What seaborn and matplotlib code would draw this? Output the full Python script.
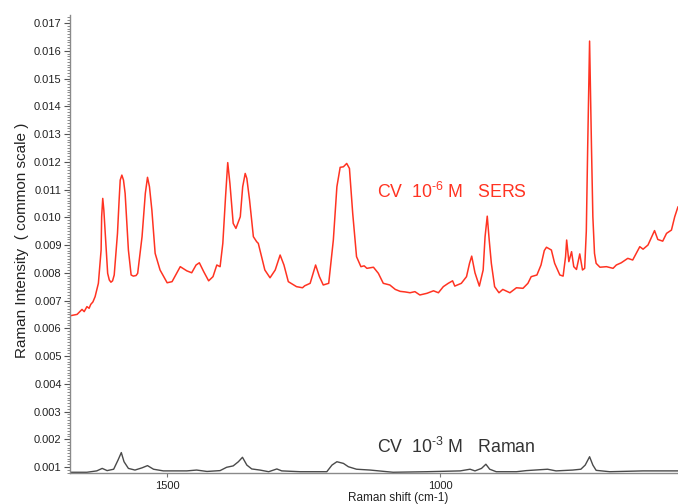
import matplotlib
matplotlib.use("Agg")
import matplotlib.pyplot as plt
from matplotlib.ticker import MultipleLocator, FormatStrFormatter
import seaborn as sns
import pandas as pd

# SERS spectrum of crystal violet (1e-6 M), Raman shift in cm-1 and intensity
sers_shift = [1678, 1665, 1656, 1652, 1647, 1643, 1640, 1636, 1632, 1626, 1621, 1620,
              1618, 1616, 1613.5, 1609, 1606, 1603, 1600, 1597, 1591, 1588, 1586, 1583,
              1580, 1577, 1571, 1566, 1562, 1557, 1554, 1546, 1540, 1536, 1532.4, 1528,
              1522, 1513, 1500, 1491, 1476, 1464, 1455, 1447, 1441, 1433, 1424,
              1416, 1409, 1403, 1398, 1393, 1389, 1385, 1383, 1379, 1374, 1366, 1361.6,
              1357, 1354, 1349, 1342, 1336, 1333, 1330, 1321, 1311.5, 1302, 1293, 1286,
              1278, 1263, 1252, 1248, 1238, 1228, 1221, 1214, 1204, 1195.5, 1189, 1183,
              1177, 1171, 1166, 1160, 1153, 1145, 1139, 1134, 1122, 1113, 1104, 1092,
              1082, 1073, 1064, 1055, 1046, 1037, 1024, 1012, 1003, 994, 985, 977, 973,
              961, 951.5, 946, 942, 936, 928, 921, 917.5, 913.5, 910, 906, 900, 892, 885,
              872, 860, 848, 839, 833, 822.5, 815, 809, 805, 796, 790, 780.5, 774.5, 770,
              768, 764, 759, 755, 750, 744, 739, 735, 732, 729.5, 726, 722.5, 720, 717,
              714, 707, 695, 683, 677, 668, 656, 647, 634, 628, 619, 607, 601, 592, 585,
              576, 570, 564]
sers_int = [0.00645, 0.00650, 0.00668, 0.00660, 0.00678, 0.00672, 0.00686, 0.00695, 0.00714,
            0.00762, 0.00882, 0.01002, 0.01068, 0.01026, 0.00943, 0.00798, 0.00774, 0.00766,
            0.00771, 0.00792, 0.00942, 0.01062, 0.01134, 0.01152, 0.01134, 0.01086, 0.00882,
            0.00792, 0.00788, 0.00790, 0.00798, 0.00930, 0.01086, 0.01144, 0.01110, 0.01026,
            0.00870, 0.00810, 0.00764, 0.00768, 0.00822, 0.00807, 0.00800, 0.00828, 0.00836,
            0.00804, 0.00771, 0.00786, 0.00828, 0.00822, 0.00906, 0.01074, 0.01197, 0.01122,
            0.01074, 0.00978, 0.00960, 0.01002, 0.01110, 0.01158, 0.01140, 0.01062, 0.00930,
            0.00912, 0.00906, 0.00882, 0.00810, 0.00782, 0.00810, 0.00864, 0.00828, 0.00768,
            0.00750, 0.00746, 0.00753, 0.00762, 0.00828, 0.00786, 0.00756, 0.00762, 0.00918,
            0.01110, 0.01180, 0.01182, 0.01194, 0.01176, 0.01014, 0.00858, 0.00822, 0.00825,
            0.00816, 0.00820, 0.00798, 0.00762, 0.00756, 0.00740, 0.00733, 0.00731, 0.00728,
            0.00732, 0.00720, 0.00726, 0.00735, 0.00728, 0.00750, 0.00762, 0.00771, 0.00752,
            0.00762, 0.00786, 0.00834, 0.00860, 0.00800, 0.00752, 0.00810, 0.00930, 0.01004,
            0.00920, 0.00834, 0.00750, 0.00728, 0.00740, 0.00728, 0.00746, 0.00744, 0.00762,
            0.00786, 0.00792, 0.00828, 0.00880, 0.00892, 0.00882, 0.00834, 0.00792, 0.00788,
            0.00858, 0.00918, 0.00840, 0.00876, 0.00822, 0.00812, 0.00868, 0.00810, 0.00816,
            0.00950, 0.01250, 0.01635, 0.01250, 0.01002, 0.00870, 0.00834, 0.00820, 0.00822,
            0.00816, 0.00828, 0.00836, 0.00852, 0.00846, 0.00894, 0.00885, 0.00900, 0.00952,
            0.00920, 0.00914, 0.00942, 0.00954, 0.01002, 0.01038]

# Normal Raman spectrum of crystal violet (1e-3 M)
raman_shift = [1678, 1647, 1629, 1619, 1610, 1598, 1590, 1584, 1579, 1571, 1559, 1546, 1536,
               1525, 1507, 1482, 1464, 1446, 1427, 1403, 1391, 1379, 1369.5, 1362, 1354, 1345,
               1330, 1314, 1299, 1290, 1256, 1207.5, 1198, 1189, 1177, 1168, 1153, 1128, 1086,
               1025, 963, 945, 936, 924, 916, 909, 897, 860, 842, 803, 787.5, 757, 742, 734,
               726, 720, 714, 689, 628, 564]
raman_int = [0.00081, 0.00081, 0.00086, 0.00095, 0.00087, 0.00092, 0.00125, 0.00152, 0.00119,
             0.00095, 0.00089, 0.00097, 0.00105, 0.00092, 0.00086, 0.00086, 0.00086, 0.00089,
             0.00084, 0.00087, 0.00099, 0.00104, 0.00119, 0.00135, 0.00107, 0.00093, 0.00089,
             0.00083, 0.00093, 0.00086, 0.00083, 0.00083, 0.00107, 0.00119, 0.00113, 0.00101,
             0.00092, 0.00089, 0.00081, 0.00083, 0.00086, 0.00092, 0.00086, 0.00095, 0.00110,
             0.00092, 0.00083, 0.00083, 0.00087, 0.00092, 0.00086, 0.00089, 0.00092, 0.00107,
             0.00137, 0.00107, 0.00088, 0.00083, 0.00086, 0.00086]

# U+2010 keeps a short hyphen in the exponent instead of a math minus
sers_label = "CV  10$^{\u20106}$ M   SERS"
raman_label = "CV  10$^{\u20103}$ M   Raman"

sns.set_style("ticks")
plt.rcParams["font.family"] = ["Liberation Sans", "DejaVu Sans"]
plt.rcParams["mathtext.default"] = "regular"

sers_df = pd.DataFrame({"shift": sers_shift, "intensity": sers_int})
raman_df = pd.DataFrame({"shift": raman_shift, "intensity": raman_int})

fig = plt.figure(figsize=(6.78, 5.04), dpi=100)
ax = fig.add_axes([70 / 678, 31 / 504, 608 / 678, 458 / 504])

red = "#ff3322"
gray = "#4a4a4a"
sns.lineplot(data=sers_df, x="shift", y="intensity", ax=ax, color=red, lw=1.1)
sns.lineplot(data=raman_df, x="shift", y="intensity", ax=ax, color=gray, lw=1.0)

ax.set_xlim(1678, 564)
ax.set_ylim(0.000784, 0.01729)

ax.yaxis.set_major_locator(MultipleLocator(0.001))
ax.yaxis.set_minor_locator(MultipleLocator(0.0001))
ax.yaxis.set_major_formatter(FormatStrFormatter("%.3f"))
ax.xaxis.set_major_locator(MultipleLocator(500))

ax.tick_params(axis="y", which="major", length=4, width=0.8, pad=2,
               labelsize=8, colors="#555555", labelcolor="#222222")
ax.tick_params(axis="y", which="minor", length=2, width=0.6, colors="#777777")
ax.tick_params(axis="x", which="major", length=3, width=0.8, pad=3,
               labelsize=8, colors="#777777", labelcolor="#222222")

sns.despine(ax=ax, top=True, right=True)
for side in ("left", "bottom"):
    ax.spines[side].set_color("#8a8a8a")
    ax.spines[side].set_linewidth(1.0)

ax.set_xlabel("Raman shift (cm-1)", fontsize=8.5, color="#222222")
ax.xaxis.set_label_coords(0.539, -0.041)
ax.set_ylabel("Raman Intensity  ( common scale )", fontsize=11, color="#222222")
ax.yaxis.set_label_coords(-0.067, 0.509)

ax.text(1115, 0.01069, sers_label, color=red, fontsize=12.8, ha="left", va="baseline")
ax.text(1115, 0.00150, raman_label, color="#333333", fontsize=12.8, ha="left", va="baseline")

fig.savefig("out.png", dpi=100)
